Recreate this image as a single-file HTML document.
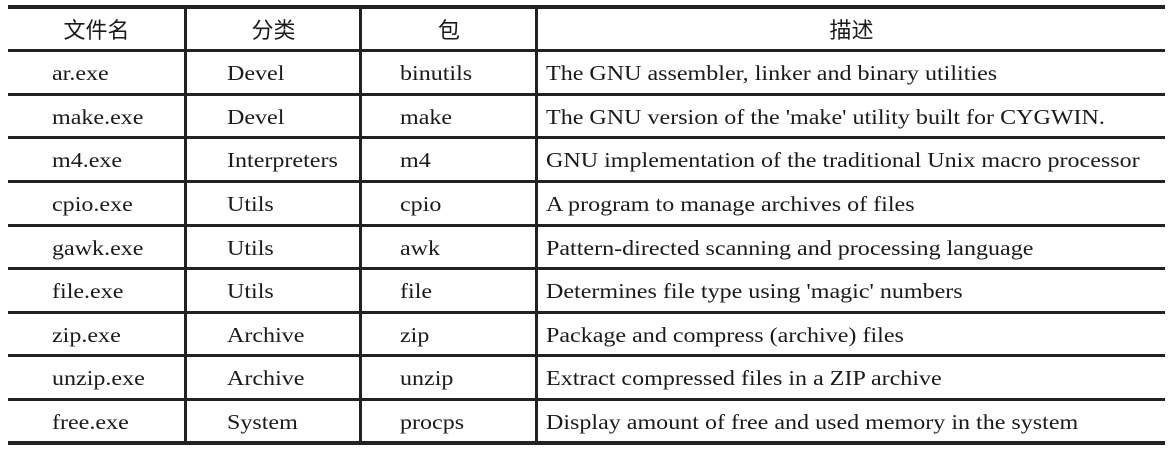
<!DOCTYPE html>
<html><head><meta charset="utf-8"><style>
body{margin:0;background:#fff;width:1173px;height:450px;position:relative;overflow:hidden}
.h{position:absolute;left:8px;width:1157px;background:#222}
.v{position:absolute;width:3px;background:#222;top:8px;height:435px}
.t{position:absolute;font-family:"Liberation Serif",serif;font-size:21px;color:#1a1a1a;white-space:nowrap;line-height:24px;transform:scaleX(1.145);transform-origin:0 0}
.c{position:absolute;font-family:"Liberation Sans","Noto Sans CJK SC",sans-serif;font-size:22px;color:#1a1a1a;text-align:center;line-height:26px}
</style></head><body>
<div class="h" style="top:5px;height:4px"></div>
<div class="h" style="top:49px;height:3px"></div>
<div class="h" style="top:93px;height:3px"></div>
<div class="h" style="top:136px;height:3px"></div>
<div class="h" style="top:180px;height:3px"></div>
<div class="h" style="top:224px;height:3px"></div>
<div class="h" style="top:267px;height:3px"></div>
<div class="h" style="top:311px;height:3px"></div>
<div class="h" style="top:354px;height:3px"></div>
<div class="h" style="top:398px;height:3px"></div>
<div class="h" style="top:441px;height:4px"></div>
<div class="v" style="left:184px"></div>
<div class="v" style="left:359px"></div>
<div class="v" style="left:535px"></div>
<div class="c" style="left:30px;width:133px;top:18px">文件名</div>
<div class="c" style="left:187px;width:173px;top:18px">分类</div>
<div class="c" style="left:362px;width:174px;top:18px">包</div>
<div class="c" style="left:538px;width:627px;top:18px">描述</div>
<div class="t" style="left:52px;top:61px">ar.exe</div><div class="t" style="left:227px;top:61px">Devel</div><div class="t" style="left:400px;top:61px">binutils</div><div class="t" style="left:546px;top:61px">The GNU assembler, linker and binary utilities</div>
<div class="t" style="left:52px;top:105px">make.exe</div><div class="t" style="left:227px;top:105px">Devel</div><div class="t" style="left:400px;top:105px">make</div><div class="t" style="left:546px;top:105px">The GNU version of the 'make' utility built for CYGWIN.</div>
<div class="t" style="left:52px;top:148px">m4.exe</div><div class="t" style="left:227px;top:148px">Interpreters</div><div class="t" style="left:400px;top:148px">m4</div><div class="t" style="left:546px;top:148px">GNU implementation of the traditional Unix macro processor</div>
<div class="t" style="left:52px;top:192px">cpio.exe</div><div class="t" style="left:227px;top:192px">Utils</div><div class="t" style="left:400px;top:192px">cpio</div><div class="t" style="left:546px;top:192px">A program to manage archives of files</div>
<div class="t" style="left:52px;top:236px">gawk.exe</div><div class="t" style="left:227px;top:236px">Utils</div><div class="t" style="left:400px;top:236px">awk</div><div class="t" style="left:546px;top:236px">Pattern-directed scanning and processing language</div>
<div class="t" style="left:52px;top:279px">file.exe</div><div class="t" style="left:227px;top:279px">Utils</div><div class="t" style="left:400px;top:279px">file</div><div class="t" style="left:546px;top:279px">Determines file type using 'magic' numbers</div>
<div class="t" style="left:52px;top:323px">zip.exe</div><div class="t" style="left:227px;top:323px">Archive</div><div class="t" style="left:400px;top:323px">zip</div><div class="t" style="left:546px;top:323px">Package and compress (archive) files</div>
<div class="t" style="left:52px;top:366px">unzip.exe</div><div class="t" style="left:227px;top:366px">Archive</div><div class="t" style="left:400px;top:366px">unzip</div><div class="t" style="left:546px;top:366px">Extract compressed files in a ZIP archive</div>
<div class="t" style="left:52px;top:410px">free.exe</div><div class="t" style="left:227px;top:410px">System</div><div class="t" style="left:400px;top:410px">procps</div><div class="t" style="left:546px;top:410px">Display amount of free and used memory in the system</div>
</body></html>
